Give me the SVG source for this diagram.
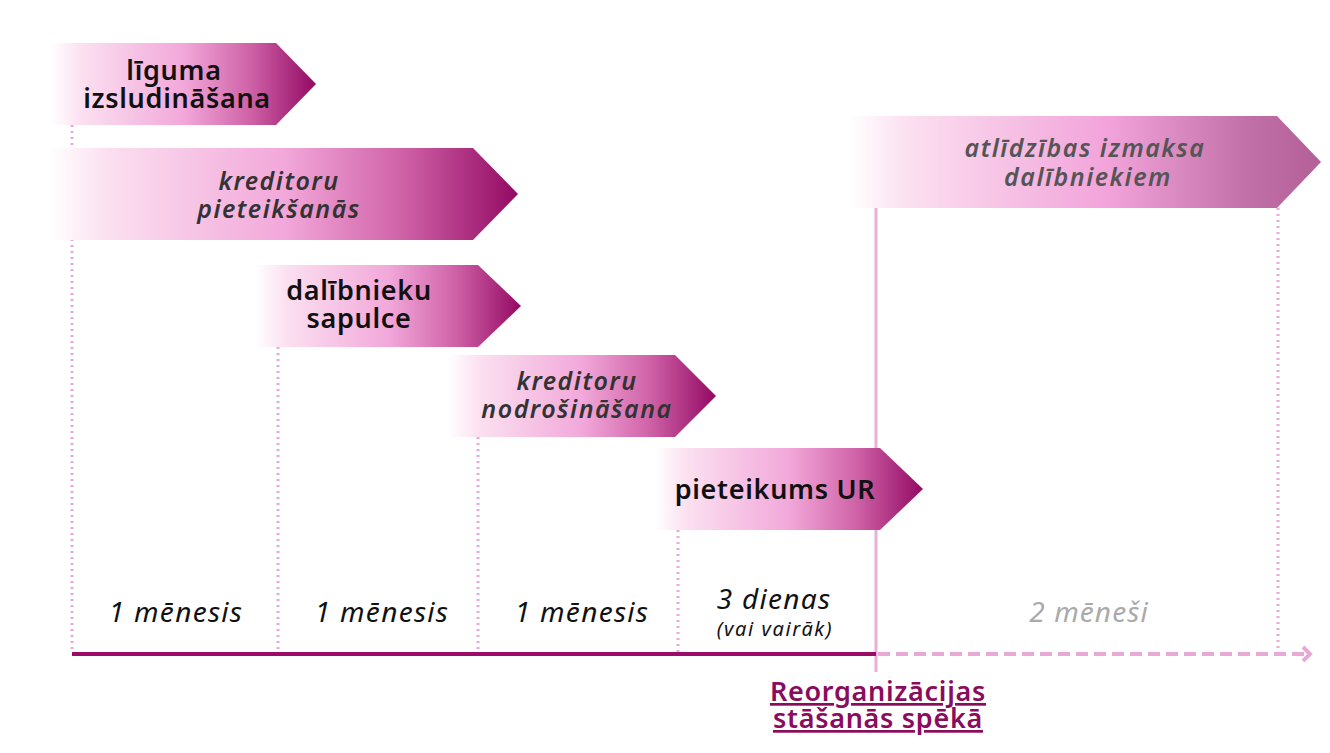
<svg xmlns="http://www.w3.org/2000/svg" width="1330" height="753" viewBox="0 0 1330 753">
<defs>
<linearGradient id="g" x1="0" y1="0" x2="1" y2="0">
<stop offset="0" stop-color="#ffffff"/>
<stop offset="0.12" stop-color="#fbe0f0"/>
<stop offset="0.5" stop-color="#f2a8da"/>
<stop offset="0.75" stop-color="#d063a8"/>
<stop offset="1" stop-color="#930a63"/>
</linearGradient>
<linearGradient id="g2" x1="0" y1="0" x2="1" y2="0">
<stop offset="0" stop-color="#ffffff"/>
<stop offset="0.12" stop-color="#fbe0f0"/>
<stop offset="0.55" stop-color="#f2a3da"/>
<stop offset="0.85" stop-color="#c070a6"/>
<stop offset="1" stop-color="#b45f98"/>
</linearGradient>
<style>
.b{font-family:"Noto Sans","Liberation Sans",sans-serif;font-weight:600;font-size:27px;letter-spacing:0.7px;fill:#111;text-anchor:middle}
.i{font-family:"Noto Sans","Liberation Sans",sans-serif;font-style:italic;font-weight:600;font-size:25px;letter-spacing:1.5px;fill:#333;text-anchor:middle}
.i6{fill:#555}
.l{font-family:"Noto Sans","Liberation Sans",sans-serif;font-style:italic;font-size:28px;letter-spacing:1.3px;fill:#111;text-anchor:middle}
.dot{stroke:#e8a9d6;stroke-width:3;stroke-dasharray:2 4;fill:none}
.r{font-family:"Noto Sans","Liberation Sans",sans-serif;font-weight:600;font-size:27px;letter-spacing:0.7px;fill:#8a0c5d;text-anchor:middle;text-decoration:underline}
</style>
</defs>
<g id="connectors">
<line class="dot" x1="72" y1="125" x2="72" y2="652"/>
<line class="dot" x1="278" y1="347" x2="278" y2="652"/>
<line class="dot" x1="478" y1="437" x2="478" y2="652"/>
<line class="dot" x1="678" y1="530" x2="678" y2="652"/>
<line class="dot" x1="1278" y1="208" x2="1278" y2="652"/>
<line x1="876" y1="208" x2="876" y2="672" stroke="#e8b0d8" stroke-width="3"/>
<line x1="72" y1="654" x2="876" y2="654" stroke="#9b0b6a" stroke-width="4"/>
<line x1="878" y1="654" x2="1306" y2="654" stroke="#e8a9d6" stroke-width="4" stroke-dasharray="12 6"/>
<polyline points="1303,647 1310,654 1303,661" fill="none" stroke="#e8a9d6" stroke-width="4"/>
</g>
<g id="n1">
<path d="M50,43 H276 L316,84 L276,125 H50 Z" fill="url(#g)"/>
<text class="b" x="174" y="80">līguma</text>
<text class="b" x="177" y="108">izsludināšana</text>
</g>
<g id="n2">
<path d="M50,148 H473 L518,194 L473,240 H50 Z" fill="url(#g)"/>
<text class="i" x="279" y="190">kreditoru</text>
<text class="i" x="279" y="218">pieteikšanās</text>
</g>
<g id="n3">
<path d="M255,265 H478 L521,306 L478,347 H255 Z" fill="url(#g)"/>
<text class="b" x="359" y="300">dalībnieku</text>
<text class="b" x="359" y="328">sapulce</text>
</g>
<g id="n4">
<path d="M448,355 H675 L716,396 L675,437 H448 Z" fill="url(#g)"/>
<text class="i" x="577" y="390">kreditoru</text>
<text class="i" x="577" y="418">nodrošināšana</text>
</g>
<g id="n5">
<path d="M655,448 H880 L923,489 L880,530 H655 Z" fill="url(#g)"/>
<text class="b" x="775" y="499">pieteikums UR</text>
</g>
<g id="n6">
<path d="M850,116 H1277 L1321,162 L1277,208 H850 Z" fill="url(#g2)"/>
<text class="i i6" x="1085" y="157">atlīdzības izmaksa</text>
<text class="i i6" x="1088" y="186">dalībniekiem</text>
</g>
<g id="labels">
<text class="l" x="176" y="622">1 mēnesis</text>
<text class="l" x="382" y="622">1 mēnesis</text>
<text class="l" x="582" y="622">1 mēnesis</text>
<text class="l" x="774" y="609">3 dienas</text>
<text class="l" x="775" y="636" style="font-size:20px;letter-spacing:1.6px">(vai vairāk)</text>
<text class="l" x="1089" y="622" style="fill:#aaa;letter-spacing:1.1px">2 mēneši</text>
<text class="r" x="878" y="701">Reorganizācijas</text>
<text class="r" x="878" y="728">stāšanās spēkā</text>
</g>
</svg>
